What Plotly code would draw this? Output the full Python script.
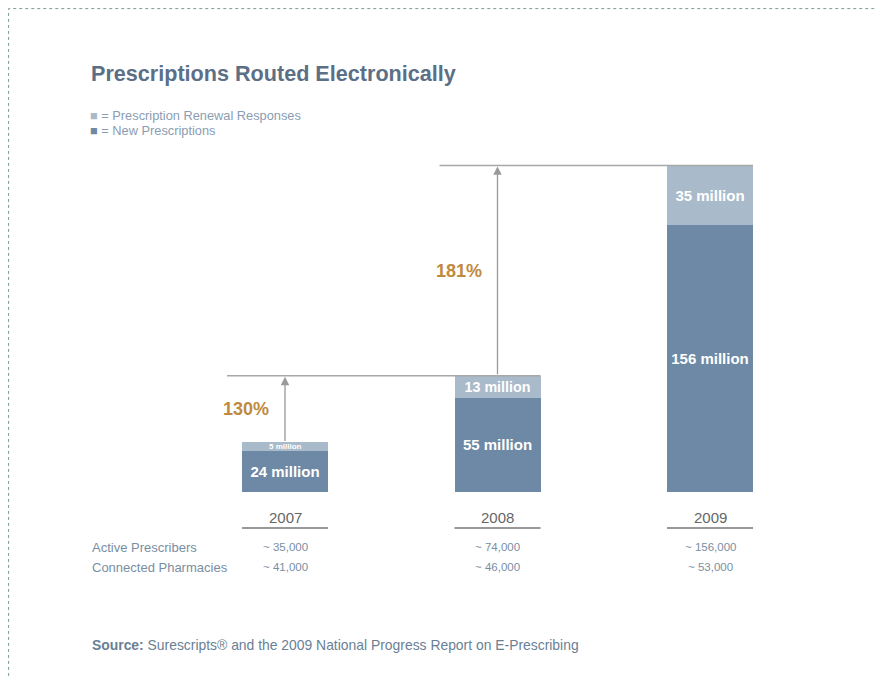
import plotly.graph_objects as go

# ---- data ----
years = ["2007", "2008", "2009"]
new_rx = [24, 55, 156]            # millions, New Prescriptions
renewal_rx = [5, 13, 35]          # millions, Prescription Renewal Responses
growth_labels = ["130%", "181%"]
row_labels = ["Active Prescribers", "Connected Pharmacies"]
active_prescribers = ["~ 35,000", "~ 74,000", "~ 156,000"]
connected_pharmacies = ["~ 41,000", "~ 46,000", "~ 53,000"]
legend_labels = ["= Prescription Renewal Responses", "= New Prescriptions"]

W, H = 885, 679
OFF = 8                # page body margin
BASE_PX = 492          # baseline pixel row (page coords)
PX_PER_M = 1.71        # pixels per million
X0_PX = 285            # centre of first bar (page coords)
STEP_PX = 212.5        # distance between bars
BAR_W = 86 / STEP_PX

def py2y(py):
    return (BASE_PX - py) / PX_PER_M

def px2x(px):
    return (px - X0_PX) / STEP_PX

def pxp(px):
    return (px - OFF) / W

def pyp(py):
    return 1 - (py - OFF) / H

FONT = "Arial, Liberation Sans, Helvetica"
NEW_C = "#6e89a5"
REN_C = "#a9bacb"

xs = list(range(len(years)))
totals = [a + b for a, b in zip(new_rx, renewal_rx)]

# segments too thin for an inside label get a small annotation instead
thin = [v * PX_PER_M < 16 for v in renewal_rx]

fig = go.Figure()
fig.add_trace(go.Bar(
    x=xs, y=new_rx, width=BAR_W, name=legend_labels[1],
    marker=dict(color=NEW_C, line=dict(width=0)),
    text=[f"{v} million" for v in new_rx], textposition="inside",
    insidetextanchor="middle",
    textfont=dict(family=FONT, size=15, color="white", weight="bold"),
))
fig.add_trace(go.Bar(
    x=xs, y=renewal_rx, width=BAR_W, name=legend_labels[0],
    marker=dict(color=REN_C, line=dict(width=0)),
    text=["" if t else f"{v} million" for v, t in zip(renewal_rx, thin)],
    textposition="inside", insidetextanchor="middle",
    textfont=dict(family=FONT, size=15, color="white", weight="bold"),
))

shapes = []
annotations = []
for i, (v, t) in enumerate(zip(renewal_rx, thin)):
    if t:
        annotations.append(dict(x=i, y=new_rx[i] + v / 2, xref="x", yref="y",
                                showarrow=False, text=f"<b>{v} million</b>",
                                font=dict(family=FONT, size=8, color="white")))

LINE_C = "#a8a8a8"
for i in range(1, len(years)):
    shapes.append(dict(type="line", xref="x", yref="y",
                       x0=(i - 1) - BAR_W / 2 - 15 / STEP_PX, x1=i + BAR_W / 2,
                       y0=totals[i], y1=totals[i],
                       line=dict(color=LINE_C, width=1.5)))
    annotations.append(dict(x=i - 1, y=totals[i], ax=i - 1, ay=totals[i - 1],
                            xref="x", yref="y", axref="x", ayref="y",
                            showarrow=True, arrowhead=2, arrowsize=1.3, arrowwidth=1.3,
                            arrowcolor="#999999", text="", standoff=1))
    annotations.append(dict(x=i - 1, y=(totals[i] + totals[i - 1]) / 2,
                            xref="x", yref="y", xanchor="right", yanchor="middle",
                            xshift=-14, showarrow=False, text=f"<b>{growth_labels[i-1]}</b>",
                            font=dict(family=FONT, size=18, color="#c08a3e")))

for i, yr in enumerate(years):
    annotations.append(dict(x=i, y=py2y(517), xref="x", yref="y", showarrow=False,
                            text=yr, font=dict(family=FONT, size=15, color="#666666")))
    shapes.append(dict(type="line", xref="x", yref="y",
                       x0=i - BAR_W / 2, x1=i + BAR_W / 2, y0=py2y(528), y1=py2y(528),
                       line=dict(color="#777777", width=1.5)))
    annotations.append(dict(x=i, y=py2y(547), xref="x", yref="y", showarrow=False,
                            text=active_prescribers[i],
                            font=dict(family=FONT, size=11.5, color="#7a8ea3")))
    annotations.append(dict(x=i, y=py2y(567), xref="x", yref="y", showarrow=False,
                            text=connected_pharmacies[i],
                            font=dict(family=FONT, size=11.5, color="#7a8ea3")))

for j, lab in enumerate(row_labels):
    annotations.append(dict(x=pxp(90), y=pyp(547 + 20 * j), xref="paper", yref="paper",
                            xanchor="left", yanchor="middle", showarrow=False, text=lab,
                            font=dict(family=FONT, size=13, color="#7a8ea3")))

legend_colors = [REN_C, NEW_C]
for j, lab in enumerate(legend_labels):
    annotations.append(dict(x=pxp(88), y=pyp(115 + 15 * j), xref="paper", yref="paper",
                            xanchor="left", yanchor="middle", showarrow=False,
                            text=f"<span style='color:{legend_colors[j]}'>■</span> {lab}",
                            font=dict(family=FONT, size=12.8, color="#8a9db2")))

annotations.append(dict(x=pxp(89), y=pyp(73), xref="paper", yref="paper",
                        xanchor="left", yanchor="middle", showarrow=False,
                        text="<b>Prescriptions Routed Electronically</b>",
                        font=dict(family=FONT, size=21.6, color="#5b6f86")))
annotations.append(dict(x=pxp(90), y=pyp(645), xref="paper", yref="paper",
                        xanchor="left", yanchor="middle", showarrow=False,
                        text="<b>Source:</b> Surescripts® and the 2009 National Progress Report on E-Prescribing",
                        font=dict(family=FONT, size=13.9, color="#6a7f95")))

# dotted frame (top and left edges visible)
shapes.append(dict(type="rect", xref="paper", yref="paper",
                   x0=0.6 / W, x1=1.05, y0=-0.05, y1=1 - 0.6 / H,
                   line=dict(color="#7d9a9a", width=1, dash="dot")))

fig.update_layout(
    width=W, height=H, barmode="stack",
    margin=dict(l=0, r=0, t=0, b=0),
    paper_bgcolor="white", plot_bgcolor="white",
    xaxis=dict(range=[px2x(OFF), px2x(W + OFF)], visible=False, fixedrange=True),
    yaxis=dict(range=[py2y(H + OFF), py2y(OFF)], visible=False, fixedrange=True),
    showlegend=False,
    shapes=shapes, annotations=annotations,
)

fig.write_html("out.html", config={"displayModeBar": False})
